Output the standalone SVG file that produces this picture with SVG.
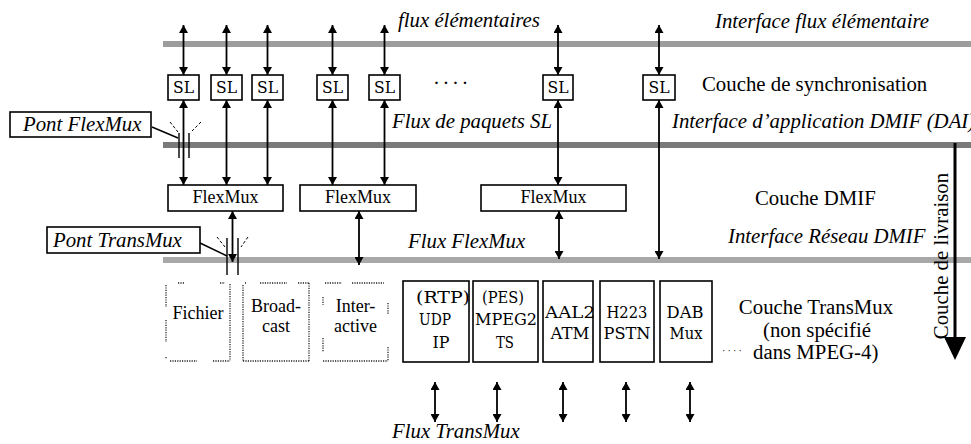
<svg xmlns="http://www.w3.org/2000/svg" width="971" height="444" viewBox="0 0 971 444">
<style>
  .box{fill:#fff;stroke:#000;stroke-width:1.6}
  .dot{fill:none;stroke:#222;stroke-width:1.3;stroke-dasharray:1.2 1.2}
  .flow{fill:none;stroke:#000;stroke-width:1.8;marker-start:url(#ah);marker-end:url(#ah)}
  .thin{fill:none;stroke:#000;stroke-width:1.4}
  .dash{fill:none;stroke:#000;stroke-width:1;stroke-dasharray:3 2}
  .lbl{font-family:"Liberation Serif","Times New Roman",serif;font-size:20.8px;fill:#000}
  .it{font-style:italic}
  .mono{font-family:"DejaVu Serif","Liberation Serif",serif;font-size:17px;fill:#000;text-anchor:middle}
  .ser{font-family:"Liberation Serif","Times New Roman",serif;font-size:18px;fill:#000;text-anchor:middle}
</style>
<defs>
  <marker id="ah" viewBox="0 0 8 9" refX="8" refY="4.5" markerWidth="8" markerHeight="9" markerUnits="userSpaceOnUse" orient="auto-start-reverse">
    <path d="M0,0 L8,4.5 L0,9 Z" fill="#000"/>
  </marker>
</defs>

<!-- interface bars -->
<g id="interfaces">
  <rect x="163" y="41" width="808" height="6" fill="#9c9c9c"/>
  <rect x="163" y="142" width="808" height="6" fill="#7a7a7a"/>
  <rect x="163" y="257" width="808" height="6" fill="#a8a8a8"/>
</g>

<!-- connectors -->
<g id="connectors">
  <!-- elementary streams -->
  <path class="flow" d="M183.5,25 V75"/>
  <path class="flow" d="M226.5,25 V75"/>
  <path class="flow" d="M267.5,25 V75"/>
  <path class="flow" d="M332.5,25 V75"/>
  <path class="flow" d="M384.5,25 V75"/>
  <path class="flow" d="M558,25 V75"/>
  <path class="flow" d="M659,25 V75"/>
  <!-- SL packet streams -->
  <path class="flow" d="M183.5,100 V185"/>
  <path class="flow" d="M226.5,100 V185"/>
  <path class="flow" d="M267.5,100 V185"/>
  <path class="flow" d="M332.5,100 V185"/>
  <path class="flow" d="M384.5,100 V185"/>
  <path class="flow" d="M558,100 V185"/>
  <path class="flow" d="M659,100 V259"/>
  <!-- FlexMux streams -->
  <path class="flow" d="M232.5,211 V262"/>
  <path class="flow" d="M359,211 V265"/>
  <path class="flow" d="M559,211 V259"/>
  <!-- TransMux streams -->
  <path class="flow" d="M435,382 V422"/>
  <path class="flow" d="M497,382 V422"/>
  <path class="flow" d="M563,382 V422"/>
  <path class="flow" d="M626,382 V422"/>
  <path class="flow" d="M690,382 V422"/>
  <!-- bridges -->
  <path class="thin" d="M179,133 V158 M189,133 V158"/>
  <path class="dash" d="M170,122 L178,132 M201,122 L192,131"/>
  <path class="thin" d="M152,127 L178,138"/>
  <path class="thin" d="M227,238 V275 M238,238 V275"/>
  <path class="dash" d="M217,237 L225,247 M248,237 L241,247"/>
  <path class="thin" d="M200,243 L227,256"/>
  <!-- delivery layer arrow -->
  <line x1="955" y1="143" x2="955" y2="340" stroke="#000" stroke-width="3"/>
  <polygon points="944,337 966,337 955,360" fill="#000"/>
</g>

<!-- sync layer -->
<g id="sl1"><rect class="box" x="168" y="75" width="31" height="25"/><text class="mono" x="183.5" y="93" textLength="21" lengthAdjust="spacingAndGlyphs">SL</text></g>
<g id="sl2"><rect class="box" x="211" y="75" width="31" height="25"/><text class="mono" x="226.5" y="93" textLength="21" lengthAdjust="spacingAndGlyphs">SL</text></g>
<g id="sl3"><rect class="box" x="252" y="75" width="31" height="25"/><text class="mono" x="267.5" y="93" textLength="21" lengthAdjust="spacingAndGlyphs">SL</text></g>
<g id="sl4"><rect class="box" x="317" y="75" width="31" height="25"/><text class="mono" x="332.5" y="93" textLength="21" lengthAdjust="spacingAndGlyphs">SL</text></g>
<g id="sl5"><rect class="box" x="369" y="75" width="31" height="25"/><text class="mono" x="384.5" y="93" textLength="21" lengthAdjust="spacingAndGlyphs">SL</text></g>
<g id="sl6"><rect class="box" x="543" y="75" width="30" height="25"/><text class="mono" x="558" y="93" textLength="21" lengthAdjust="spacingAndGlyphs">SL</text></g>
<g id="sl7"><rect class="box" x="643" y="75" width="32" height="25"/><text class="mono" x="659" y="93" textLength="21" lengthAdjust="spacingAndGlyphs">SL</text></g>
<text class="lbl" x="433" y="90" font-size="10" letter-spacing="2.6">····</text>

<!-- DMIF layer -->
<g id="flexmux1"><rect class="box" x="168" y="185" width="115" height="26"/><text class="ser" x="225.5" y="203">FlexMux</text></g>
<g id="flexmux2"><rect class="box" x="300" y="185" width="116" height="26"/><text class="ser" x="358" y="203">FlexMux</text></g>
<g id="flexmux3"><rect class="box" x="481" y="185" width="145" height="26"/><text class="ser" x="553.5" y="203">FlexMux</text></g>

<!-- bridge labels -->
<g id="pont-flexmux"><rect class="box" x="10" y="112" width="141" height="25" stroke-width="1.4"/><text class="lbl it" x="23" y="131">Pont FlexMux</text></g>
<g id="pont-transmux"><rect class="box" x="47" y="227" width="153" height="26" stroke-width="1.4"/><text class="lbl it" x="53" y="247">Pont TransMux</text></g>

<!-- TransMux layer: storage / broadcast / interactive -->
<g id="fichier">
  <path class="dot" d="M178,283 H184 M220,283 H225 M166,285 V307 M166,320 V342 M166,357 V359 M170,361 H197 M213,361 H230 M230,284 V361"/>
  <text class="ser" x="198" y="319">Fichier</text>
</g>
<g id="broadcast">
  <path class="dot" d="M245,283 H246 M260,283 H287 M298,283 H309 M243,285 V361 M309,283 V361 M243,361 H309"/>
  <text class="ser" x="276" y="312">Broad-</text>
  <text class="ser" x="276" y="332">cast</text>
</g>
<g id="interactive">
  <path class="dot" d="M325,283 H342 M352,283 H384 M323,297 V305 M323,338 V352 M388,303 V315 M388,347 V361 M323,361 H388"/>
  <text class="ser" x="355.5" y="312">Inter-</text>
  <text class="ser" x="355.5" y="332">active</text>
</g>

<!-- TransMux layer: protocol stacks -->
<g id="rtp">
  <rect class="box" x="403" y="281" width="66" height="81"/>
  <text class="mono" x="443" y="303" textLength="54" lengthAdjust="spacingAndGlyphs">(RTP)</text>
  <text class="mono" x="435" y="325" textLength="32" lengthAdjust="spacingAndGlyphs">UDP</text>
  <text class="mono" x="441" y="348" textLength="17" lengthAdjust="spacingAndGlyphs">IP</text>
</g>
<g id="pes">
  <rect class="box" x="473" y="281" width="65" height="81"/>
  <text class="mono" x="503" y="303" textLength="42" lengthAdjust="spacingAndGlyphs">(PES)</text>
  <text class="mono" x="506" y="325" textLength="62" lengthAdjust="spacingAndGlyphs">MPEG2</text>
  <text class="mono" x="505" y="348" textLength="18" lengthAdjust="spacingAndGlyphs">TS</text>
</g>
<g id="aal2">
  <rect class="box" x="543" y="281" width="50" height="81"/>
  <text class="mono" x="570" y="318" textLength="50" lengthAdjust="spacingAndGlyphs">AAL2</text>
  <text class="mono" x="570" y="339" textLength="39" lengthAdjust="spacingAndGlyphs">ATM</text>
</g>
<g id="h223">
  <rect class="box" x="600" y="281" width="54" height="81"/>
  <text class="mono" x="627" y="318" textLength="41" lengthAdjust="spacingAndGlyphs">H223</text>
  <text class="mono" x="627" y="339" textLength="47" lengthAdjust="spacingAndGlyphs">PSTN</text>
</g>
<g id="dab">
  <rect class="box" x="660" y="281" width="52" height="81"/>
  <text class="mono" x="685" y="318" textLength="37" lengthAdjust="spacingAndGlyphs">DAB</text>
  <text class="mono" x="686" y="339" textLength="33" lengthAdjust="spacingAndGlyphs">Mux</text>
</g>

<!-- layer and interface labels -->
<g id="labels">
  <text class="lbl it" x="398" y="27">flux élémentaires</text>
  <text class="lbl it" x="715" y="28">Interface flux élémentaire</text>
  <text class="lbl" x="702" y="91">Couche de synchronisation</text>
  <text class="lbl it" x="392" y="128">Flux de paquets SL</text>
  <text class="lbl it" x="672" y="128">Interface d’application DMIF (DAI)</text>
  <text class="lbl" x="755" y="205">Couche DMIF</text>
  <text class="lbl it" x="728" y="243">Interface Réseau DMIF</text>
  <text class="lbl it" x="408" y="248">Flux FlexMux</text>
  <text class="lbl" x="816" y="314" text-anchor="middle" font-size="20">Couche TransMux</text>
  <text class="lbl" x="817" y="337" text-anchor="middle" font-size="20">(non spécifié</text>
  <text class="lbl" y="359" font-size="20"><tspan x="722" dy="-5" font-size="10" letter-spacing="2.2">····</tspan><tspan x="753" dy="5">dans MPEG-4)</tspan></text>
  <text class="lbl it" x="392" y="438">Flux TransMux</text>
  <text class="lbl" transform="translate(948,256) rotate(-90)" text-anchor="middle" font-size="19">Couche de livraison</text>
</g>
</svg>
